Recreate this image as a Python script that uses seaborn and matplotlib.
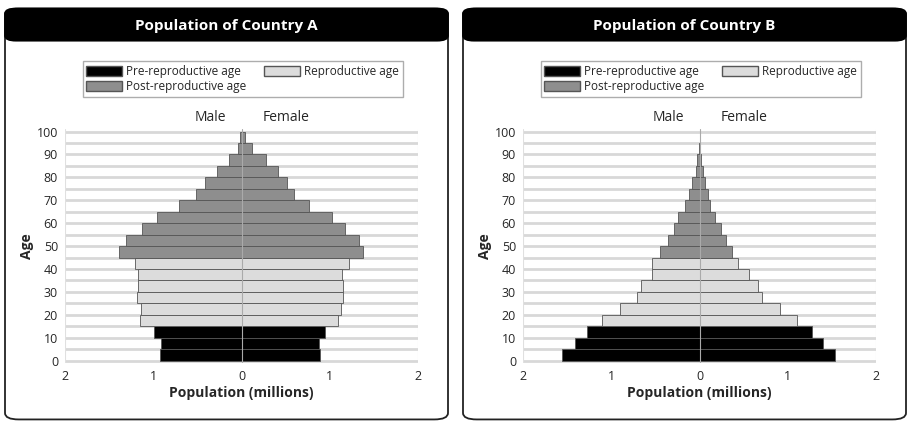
import pandas as pd
import seaborn as sns
import matplotlib.pyplot as plt
from matplotlib.patches import FancyBboxPatch, Patch

ages = list(range(0, 100, 5))
stage = ['Pre-reproductive age'] * 3 + ['Reproductive age'] * 6 + ['Post-reproductive age'] * 11

a_male = [0.92, 0.91, 0.99, 1.15, 1.14, 1.18, 1.17, 1.17, 1.21, 1.39,
          1.31, 1.13, 0.96, 0.71, 0.51, 0.41, 0.28, 0.14, 0.04, 0.02]
a_female = [0.89, 0.88, 0.95, 1.09, 1.13, 1.15, 1.15, 1.14, 1.22, 1.38,
            1.33, 1.17, 1.03, 0.77, 0.59, 0.51, 0.41, 0.28, 0.12, 0.04]
b_male = [1.56, 1.41, 1.28, 1.10, 0.90, 0.71, 0.66, 0.54, 0.54, 0.45,
          0.36, 0.29, 0.24, 0.16, 0.12, 0.08, 0.04, 0.03, 0.01, 0.0]
b_female = [1.54, 1.40, 1.27, 1.10, 0.91, 0.71, 0.66, 0.56, 0.44, 0.37,
            0.30, 0.24, 0.18, 0.12, 0.10, 0.06, 0.04, 0.02, 0.01, 0.0]

palette = {'Pre-reproductive age': '#000000',
           'Reproductive age': '#dcdcdc',
           'Post-reproductive age': '#8e8e8e'}

sns.set_style('white')
plt.rcParams['font.family'] = ['Open Sans', 'DejaVu Sans']

fig = plt.figure(figsize=(9.14, 4.28), dpi=100)


def panel(x0, title, male, female):
    w = 443 / 914
    # rounded frame and header, kept behind the axes
    fig.patches.append(FancyBboxPatch((x0, 0.02), w, 0.96, boxstyle='round,pad=0,rounding_size=0.015',
                                      transform=fig.transFigure, fc='white', ec='#222222', lw=1.3,
                                      zorder=-2))
    fig.patches.append(FancyBboxPatch((x0, 0.905), w, 0.075, boxstyle='round,pad=0,rounding_size=0.012',
                                      transform=fig.transFigure, fc='black', ec='black', lw=1.3,
                                      zorder=-1))
    fig.text(x0 + w / 2, 0.94, title, color='white', ha='center', va='center',
             fontsize=11, fontweight='bold')

    ax = fig.add_axes([x0 + 60 / 914, 0.152, 353 / 914, 0.546])
    ax.patch.set_alpha(0)
    df_m = pd.DataFrame({'age': [a + 2.5 for a in ages], 'pop': [-v for v in male], 'stage': stage})
    df_f = pd.DataFrame({'age': [a + 2.5 for a in ages], 'pop': female, 'stage': stage})
    for d in (df_m, df_f):
        sns.barplot(data=d, x='pop', y='age', hue='stage', palette=palette, orient='h',
                    native_scale=True, dodge=False, width=1.0, edgecolor='#555555',
                    linewidth=0.6, legend=False, ax=ax, zorder=3)
    ax.set_xlim(-2, 2)
    ax.set_ylim(-1, 101)
    ax.set_xticks([-2, -1, 0, 1, 2])
    ax.set_xticklabels(['2', '1', '0', '1', '2'], fontsize=9)
    ax.set_yticks(range(0, 101, 10))
    ax.set_yticklabels([str(t) for t in range(0, 101, 10)], fontsize=9)
    for yy in range(0, 101, 5):
        ax.axhline(yy, color='#d8d8d8', lw=2, zorder=1)
    ax.axvline(0, color='#aaaaaa', lw=0.8, zorder=4)
    for xx in (-2, 2):
        ax.axvline(xx, color='#e0e0e0', lw=0.8, zorder=1)
    for s in ax.spines.values():
        s.set_visible(False)
    ax.tick_params(length=3, color='#999999', pad=2)
    ax.set_xlabel('Population (millions)', fontsize=10, fontweight='bold', labelpad=2)
    ax.set_ylabel('Age', fontsize=10, fontweight='bold', labelpad=2)
    ax.text(-0.35, 103, 'Male', ha='center', va='bottom', fontsize=10)
    ax.text(0.5, 103, 'Female', ha='center', va='bottom', fontsize=10)

    handles = [Patch(fc=palette[k], ec='#555555', label=k) for k in palette]
    order = [handles[0], handles[2], handles[1]]
    fig.legend(handles=order, loc='center', bbox_to_anchor=(x0 + 0.26, 0.815),
               ncol=2, frameon=True, fancybox=False, edgecolor='#999999',
               fontsize=8.5, handlelength=3, handleheight=0.9, columnspacing=1.5,
               labelspacing=0.2, borderpad=0.3, handletextpad=0.4)
    return ax


panel(5 / 914, 'Population of Country A', a_male, a_female)
panel(463 / 914, 'Population of Country B', b_male, b_female)

fig.savefig('out.png')
